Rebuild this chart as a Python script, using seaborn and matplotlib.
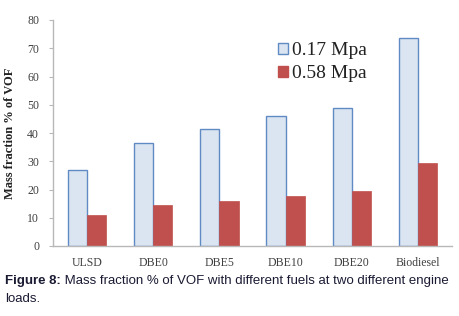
import matplotlib
matplotlib.use("Agg")
import matplotlib.pyplot as plt
import seaborn as sns
import pandas as pd

categories = ["ULSD", "DBE0", "DBE5", "DBE10", "DBE20", "Biodiesel"]
load_017 = [27.0, 36.5, 41.5, 46.0, 48.7, 73.8]
load_058 = [11.0, 14.5, 15.8, 17.8, 19.6, 29.3]
series_names = ["0.17 Mpa", "0.58 Mpa"]
y_ticks = [0, 10, 20, 30, 40, 50, 60, 70, 80]

df = pd.DataFrame({
    "fuel": categories * 2,
    "value": load_017 + load_058,
    "load": [series_names[0]] * len(categories) + [series_names[1]] * len(categories),
})

sns.set_theme(style="white")
plt.rcParams["font.family"] = ["Liberation Serif", "DejaVu Serif"]

fig = plt.figure(figsize=(4.59, 3.16), dpi=100)
ax = fig.add_axes([53 / 459, 1 - 246 / 316, 399 / 459, 226 / 316])

palette = {series_names[0]: "#dbe5f1", series_names[1]: "#c0504d"}
sns.barplot(data=df, x="fuel", y="value", hue="load", order=categories,
            hue_order=series_names, palette=palette, width=0.58,
            saturation=1, ax=ax, errorbar=None, legend=True)

for bar in ax.containers[0]:
    bar.set_edgecolor("#5f8ac4")
    bar.set_linewidth(1.0)
for bar in ax.containers[1]:
    bar.set_edgecolor("#c0504d")
    bar.set_linewidth(0.5)

ax.set_ylim(0, 80)
ax.set_xlim(-0.51, 5.51)
ax.set_yticks(y_ticks)
ax.set_yticklabels([str(t) for t in y_ticks])
ax.set_xlabel("")
ax.set_ylabel("Mass fraction % of VOF", fontsize=9, fontweight="bold",
              color="#222222", labelpad=8)

for s in ["top", "right"]:
    ax.spines[s].set_visible(False)
for s in ["left", "bottom"]:
    ax.spines[s].set_color("#b8b8b8")
    ax.spines[s].set_linewidth(1.0)

ax.tick_params(axis="y", length=3, width=0.8, color="#b8b8b8", pad=7,
               labelsize=8.5, labelcolor="#404040", left=True)
ax.tick_params(axis="x", length=0, pad=8, labelsize=8.5, labelcolor="#404040")

leg = ax.legend(loc="upper left", bbox_to_anchor=(0.545, 0.935), frameon=False,
                fontsize=14, handlelength=0.5, handleheight=0.5,
                handletextpad=0.2, labelspacing=0.3, borderaxespad=0)
leg.legend_handles[0].set_edgecolor("#5f8ac4")
leg.legend_handles[1].set_edgecolor("#c0504d")
for t in leg.get_texts():
    t.set_color("#222222")

cap_color = "#1a1a33"
t1 = fig.text(5 / 459, 1 - 287 / 316, "Figure 8:", fontsize=9.5, fontweight="bold",
              family="Liberation Sans", color=cap_color, va="bottom", ha="left")
ax.annotate(" Mass fraction % of VOF with different fuels at two different engine",
            xy=(1, 0), xycoords=t1, va="bottom", ha="left", fontsize=9.5,
            family="Liberation Sans", color=cap_color, annotation_clip=False)
fig.text(5 / 459, 1 - 305 / 316, "loads.", fontsize=9.5,
         family="Liberation Sans", color=cap_color, va="bottom", ha="left")

fig.savefig("out.png", dpi=100)
